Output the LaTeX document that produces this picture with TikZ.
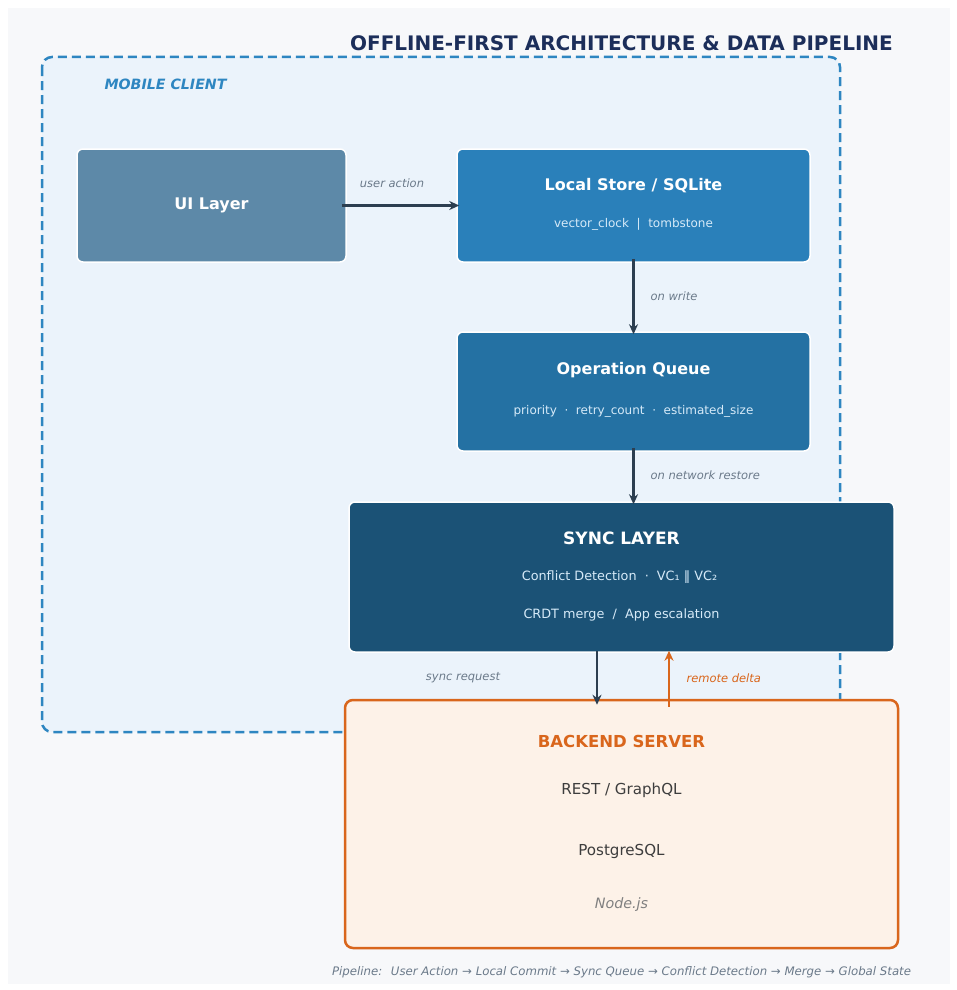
\documentclass[tikz,border=0pt]{standalone}
\usepackage{fontspec}
\setmainfont{DejaVu Sans}
\usetikzlibrary{arrows.meta}

\definecolor{pagebg}{HTML}{F7F8FA}
\definecolor{clientbg}{HTML}{EBF3FB}
\definecolor{clientline}{HTML}{2E86C1}
\definecolor{uicol}{HTML}{5D89A8}
\definecolor{storecol}{HTML}{2A80BA}
\definecolor{queuecol}{HTML}{2471A3}
\definecolor{synccol}{HTML}{1B5276}
\definecolor{titlecol}{HTML}{1C2E5A}
\definecolor{arrowcol}{HTML}{2C3E50}
\definecolor{labelcol}{HTML}{6B7A8A}
\definecolor{servercol}{HTML}{D9661C}
\definecolor{serverbg}{HTML}{FDF2E8}
\definecolor{subcol}{HTML}{D6EAF8}
\definecolor{servertext}{HTML}{3D3D3D}

\tikzset{
  layerbox/.style={rectangle, rounded corners=6pt, draw=white, line width=1.5pt, inner sep=0pt},
  boxtitle/.style={text=white, font=\bfseries\fontsize{16}{19}\selectfont},
  boxsub/.style={text=subcol, font=\fontsize{12}{14}\selectfont},
  flowlabel/.style={text=labelcol, font=\itshape\fontsize{11.5}{14}\selectfont},
  flow/.style={draw=arrowcol, line width=2.2pt, -{Stealth[length=10pt,width=9pt]}},
}

\begin{document}
\begin{tikzpicture}[x=1pt, y=-1pt]
  % Page background
  \fill[white] (0,0) rectangle (957,990);
  \fill[pagebg] (8,8) rectangle (950,984);
  \useasboundingbox (0,0) rectangle (957,990);

  % Mobile client region
  \draw[clientline, fill=clientbg, line width=2.5pt, dash pattern=on 9pt off 5pt, rounded corners=10pt]
    (42,57) rectangle (840,732);
  \node[text=titlecol, font=\bfseries\fontsize{20}{24}\selectfont] (title) at (621.5,43) {OFFLINE-FIRST ARCHITECTURE \& DATA PIPELINE};
  \node[anchor=west, text=clientline, font=\bfseries\itshape\fontsize{14.2}{17}\selectfont] (client) at (101,84) {MOBILE CLIENT};

  % Define nodes with their coordinates
  \node[layerbox, fill=uicol, minimum width=269pt, minimum height=113pt] (ui) at (211.5,205.5) {};
  \node[boxtitle] (uiT) at (211.5,205) {UI Layer};

  \node[layerbox, fill=storecol, minimum width=353pt, minimum height=113pt] (store) at (633.5,205.5) {};
  \node[boxtitle] (storeT) at (633.5,186) {Local Store / SQLite};
  \node[boxsub] (storeS) at (633.5,224) {vector\_clock \ | \ tombstone};

  \node[layerbox, fill=queuecol, minimum width=353pt, minimum height=119pt] (queue) at (633.5,391.5) {};
  \node[boxtitle] (queueT) at (633.5,370) {Operation Queue};
  \node[boxsub] (queueS) at (633.5,411) {priority \ · \ retry\_count \ · \ estimated\_size};

  \node[layerbox, fill=synccol, minimum width=545pt, minimum height=150pt] (sync) at (621.5,577) {};
  \node[boxtitle, font=\bfseries\fontsize{17}{20}\selectfont] (syncT) at (621.5,538) {SYNC LAYER};
  \node[boxsub, font=\fontsize{12.8}{15}\selectfont] (syncA) at (619.5,577) {Conflict Detection \ · \ VC₁ ‖ VC₂};
  \node[boxsub, font=\fontsize{12.8}{15}\selectfont] (syncB) at (621.5,615) {CRDT merge \ / \ App escalation};

  \node[rectangle, rounded corners=8pt, draw=servercol, fill=serverbg, line width=2.5pt,
        minimum width=553pt, minimum height=248pt, inner sep=0pt] (server) at (621.5,824) {};
  \node[text=servercol, font=\bfseries\fontsize{16.5}{20}\selectfont] (serverT) at (621.5,741) {BACKEND SERVER};
  \node[text=servertext, font=\fontsize{15.1}{18}\selectfont] (serverA) at (621.5,790) {REST / GraphQL};
  \node[text=servertext, font=\fontsize{15.1}{18}\selectfont] (serverB) at (621.5,851) {PostgreSQL};
  \node[text=gray, font=\itshape\fontsize{14.3}{17}\selectfont] (serverC) at (621.5,905) {Node.js};

  % Draw edges with labels
  \draw[flow, shorten <=-5pt, shorten >=-3pt] (ui.east) -- (store.west);
  \node[flowlabel] (actionL) at (392,183) {user action};
  \draw[flow, shorten <=-4pt, shorten >=-3pt] (store.south) -- (queue.north);
  \node[flowlabel, anchor=west] (writeL) at (647,296) {on write};
  \draw[flow, shorten <=-4pt, shorten >=-3pt] (queue.south) -- (queue.south |- sync.north);
  \node[flowlabel, anchor=west] (restoreL) at (647,475) {on network restore};
  \draw[flow, shorten <=-2pt, shorten >=-6pt] ([xshift=-24.5pt]sync.south) -- ([xshift=-24.5pt]server.north);
  \draw[servercol, line width=2.2pt, -{Stealth[length=10pt,width=9pt]}, shorten <=-8pt, shorten >=-2pt]
    ([xshift=47.5pt]server.north) -- ([xshift=47.5pt]sync.south);
  \node[flowlabel] (reqL) at (463,678) {sync request};
  \node[anchor=west, text=servercol, font=\itshape\fontsize{11.5}{14}\selectfont] (deltaL) at (683,678) {remote delta};

  % Footer
  \node[text=labelcol, font=\itshape\fontsize{11.75}{14}\selectfont] (footer) at (621.5,972)
    {Pipeline: \ User Action → Local Commit → Sync Queue → Conflict Detection → Merge → Global State};
\end{tikzpicture}
\end{document}
